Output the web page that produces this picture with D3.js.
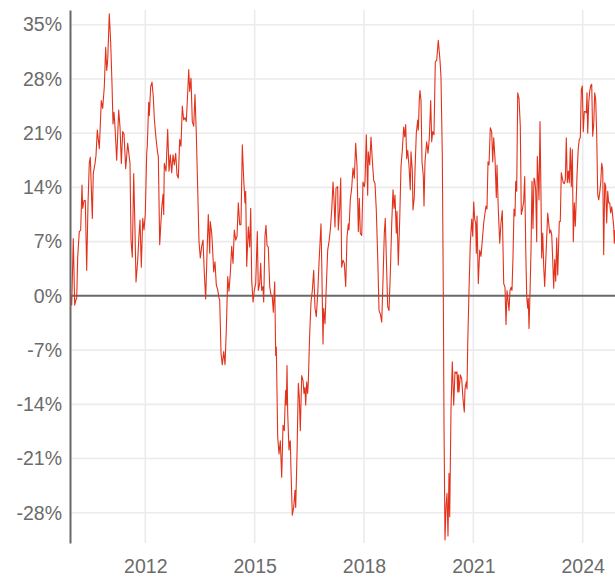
<!DOCTYPE html>
<html>
<head>
<meta charset="utf-8">
<script src="https://cdn.jsdelivr.net/npm/d3@7"></script>
<style>
  html, body { margin: 0; padding: 0; background: #ffffff; }
  svg { display: block; }
</style>
</head>
<body>
<svg id="chart" width="615" height="577"></svg>
<script>
// Observation times, as decimal years
const dates = [
  2009.953, 2009.981, 2010.024, 2010.063, 2010.090, 2010.118, 2010.145, 2010.189, 2010.227, 2010.263,
  2010.282, 2010.318, 2010.354, 2010.392, 2010.428, 2010.463, 2010.491, 2010.546, 2010.573, 2010.620,
  2010.647, 2010.683, 2010.738, 2010.793, 2010.831, 2010.875, 2010.913, 2010.941, 2010.968,
  2011.012, 2011.051, 2011.086, 2011.114, 2011.141, 2011.169, 2011.215, 2011.270, 2011.306, 2011.342,
  2011.380, 2011.416, 2011.462, 2011.517, 2011.561, 2011.580, 2011.608, 2011.643, 2011.682, 2011.717,
  2011.745, 2011.792, 2011.819, 2011.855, 2011.890, 2011.929, 2011.964,
  2012.000, 2012.038, 2012.055, 2012.093, 2012.110, 2012.148, 2012.184, 2012.219, 2012.247, 2012.294,
  2012.340, 2012.357, 2012.395, 2012.450, 2012.486, 2012.505, 2012.521, 2012.568, 2012.614, 2012.650,
  2012.686, 2012.724, 2012.760, 2012.796, 2012.834, 2012.870, 2012.905, 2012.944, 2012.979,
  2013.015, 2013.053, 2013.089, 2013.125, 2013.163, 2013.191, 2013.218, 2013.254, 2013.289, 2013.328,
  2013.363, 2013.399, 2013.438, 2013.473, 2013.509, 2013.547, 2013.583, 2013.619, 2013.657, 2013.693,
  2013.728, 2013.767, 2013.783, 2013.822, 2013.838, 2013.877, 2013.912, 2013.948, 2013.986,
  2014.022, 2014.041, 2014.077, 2014.112, 2014.151, 2014.187, 2014.222, 2014.261, 2014.296, 2014.332,
  2014.370, 2014.406, 2014.442, 2014.480, 2014.516, 2014.551, 2014.590, 2014.625, 2014.661, 2014.700,
  2014.735, 2014.754, 2014.782, 2014.826, 2014.864, 2014.892, 2014.919, 2014.955, 2014.990,
  2015.029, 2015.073, 2015.100, 2015.139, 2015.166, 2015.193, 2015.229, 2015.248, 2015.284, 2015.311,
  2015.339, 2015.374, 2015.413, 2015.449, 2015.484, 2015.512, 2015.550, 2015.577, 2015.594, 2015.632,
  2015.668, 2015.704, 2015.742, 2015.778, 2015.813, 2015.833, 2015.852, 2015.868, 2015.888, 2015.907,
  2015.942, 2015.962, 2015.978, 2015.997,
  2016.033, 2016.071, 2016.107, 2016.126, 2016.162, 2016.198, 2016.225, 2016.252, 2016.291, 2016.326,
  2016.354, 2016.381, 2016.400, 2016.428, 2016.455, 2016.472, 2016.510, 2016.546, 2016.582, 2016.620,
  2016.656, 2016.691, 2016.730, 2016.765, 2016.820, 2016.839, 2016.875, 2016.894, 2016.930, 2016.957,
  2017.004, 2017.040, 2017.075, 2017.114, 2017.150, 2017.177, 2017.204, 2017.232, 2017.278, 2017.295,
  2017.333, 2017.361, 2017.388, 2017.424, 2017.459, 2017.498, 2017.534, 2017.569, 2017.588, 2017.624,
  2017.662, 2017.698, 2017.734, 2017.772, 2017.808, 2017.844, 2017.871, 2017.898, 2017.937, 2017.972,
  2018.008, 2018.027, 2018.063, 2018.101, 2018.118, 2018.156, 2018.192, 2018.228, 2018.266, 2018.302,
  2018.337, 2018.376, 2018.412, 2018.447, 2018.486, 2018.521, 2018.557, 2018.584, 2018.612, 2018.650,
  2018.686, 2018.722, 2018.760, 2018.796, 2018.823, 2018.850, 2018.886, 2018.905, 2018.941, 2018.979,
  2019.015, 2019.051, 2019.089, 2019.117, 2019.144, 2019.171, 2019.199, 2019.235, 2019.270, 2019.289,
  2019.325, 2019.344, 2019.380, 2019.399, 2019.435, 2019.473, 2019.490, 2019.517, 2019.536, 2019.564,
  2019.591, 2019.627, 2019.646, 2019.673, 2019.720, 2019.756, 2019.791, 2019.830, 2019.857, 2019.885,
  2019.920, 2019.956, 2019.994,
  2020.038, 2020.085, 2020.112, 2020.148, 2020.176, 2020.195, 2020.222, 2020.250, 2020.277, 2020.304,
  2020.332, 2020.351, 2020.387, 2020.422, 2020.461, 2020.496, 2020.532, 2020.551, 2020.571, 2020.587,
  2020.606, 2020.642, 2020.680, 2020.716, 2020.752, 2020.771, 2020.806, 2020.826, 2020.845, 2020.881,
  2020.916, 2020.955, 2020.982,
  2021.010, 2021.037, 2021.064, 2021.081, 2021.100, 2021.136, 2021.174, 2021.210, 2021.246, 2021.284,
  2021.320, 2021.347, 2021.374, 2021.402, 2021.429, 2021.465, 2021.503, 2021.531, 2021.558, 2021.594,
  2021.630, 2021.649, 2021.684, 2021.723, 2021.758, 2021.794, 2021.833, 2021.868, 2021.896, 2021.923,
  2021.942, 2021.978,
  2022.005, 2022.033, 2022.060, 2022.088, 2022.115, 2022.143, 2022.162, 2022.189, 2022.217, 2022.252,
  2022.288, 2022.315, 2022.343, 2022.381, 2022.409, 2022.436, 2022.464, 2022.491, 2022.507, 2022.527,
  2022.554, 2022.582, 2022.609, 2022.636, 2022.664, 2022.683, 2022.710, 2022.738, 2022.754, 2022.782,
  2022.801, 2022.829, 2022.856, 2022.875, 2022.903, 2022.930, 2022.957, 2022.985,
  2023.012, 2023.040, 2023.067, 2023.095, 2023.122, 2023.150, 2023.177, 2023.204, 2023.232, 2023.259,
  2023.287, 2023.314, 2023.342, 2023.358, 2023.385, 2023.413, 2023.440, 2023.468, 2023.495, 2023.523,
  2023.550, 2023.577, 2023.605, 2023.632, 2023.660, 2023.687, 2023.715, 2023.742, 2023.770, 2023.797,
  2023.816, 2023.844, 2023.879, 2023.907, 2023.934, 2023.962, 2023.989,
  2024.016, 2024.044, 2024.071, 2024.099, 2024.118, 2024.137, 2024.165, 2024.192, 2024.219, 2024.247,
  2024.274, 2024.302, 2024.329, 2024.357, 2024.384, 2024.412, 2024.439, 2024.466, 2024.494, 2024.521,
  2024.549, 2024.576, 2024.604, 2024.631, 2024.658, 2024.686, 2024.713, 2024.741, 2024.768, 2024.796,
  2024.823, 2024.850, 2024.867, 2024.886
];

// Rolling return, in percent
const returns = [
  -0.1, -1.2, 7.4, -1.2, -0.6, -0.3, 5.0, 8.3, 8.5, 14.3,
  11.3, 12.3, 12.3, 3.3, 11.9, 17.1, 17.9, 10.0, 15.8, 17.1,
  18.1, 21.4, 19.0, 25.2, 24.2, 27.0, 32.1, 29.1, 30.4,
  36.4, 32.6, 27.4, 22.2, 23.7, 21.8, 17.5, 24.0, 21.8, 17.1,
  21.2, 20.9, 16.4, 19.7, 17.9, 17.1, 7.2, 5.0, 15.8, 8.5,
  1.8, 4.6, 7.2, 9.8, 3.7, 10.0, 8.5,
  10.6, 18.4, 19.4, 25.0, 23.3, 27.0, 27.6, 25.7, 22.9, 20.3,
  18.4, 18.0, 6.6, 11.3, 13.1, 10.5, 17.1, 16.1, 21.5, 16.1,
  18.2, 15.9, 18.2, 16.9, 18.4, 15.6, 15.2, 20.2, 19.3,
  24.5, 22.7, 23.0, 22.5, 26.2, 29.2, 26.4, 28.1, 22.5, 21.9,
  26.0, 21.0, 13.7, 7.0, 4.9, 6.4, 7.2, 2.9, -0.4, 5.5,
  10.5, 5.5, 9.6, 8.1, 6.8, 3.1, 4.4, 1.4, 0.8,
  -0.3, -0.5, -7.4, -8.9, -7.2, -8.9, -4.4, 2.5, 0.6, 2.9,
  6.4, 4.2, 8.5, 7.2, 7.7, 12.0, 9.2, 9.2, 19.5, 15.0,
  12.0, 13.5, 3.8, 8.9, 6.3, 11.3, 2.0, -0.8, 0.7,
  1.6, 8.3, 0.7, 1.6, 4.2, 0.7, 1.2, -0.8, 7.8, 9.1,
  6.5, 6.3, 1.2, 0.1, -0.1, -2.1, 1.8, -7.7, -6.6, -18.2,
  -20.4, -18.7, -23.4, -16.7, -17.4, -14.3, -12.2, -14.1, -9.0, -15.2,
  -19.9, -18.9, -18.7, -22.5,
  -28.3, -27.3, -25.1, -27.3, -20.4, -11.3, -13.1, -17.4, -10.3, -10.9,
  -12.6, -11.8, -14.1, -11.1, -12.6, -11.1, -4.9, -0.8, 0.7, 3.3,
  -1.6, -2.7, 0.3, 4.2, 9.3, 4.6, -6.2, -1.6, -3.6, 0.1,
  5.9, 7.0, 8.5, 11.1, 14.7, 12.4, 8.9, 13.9, 14.1, 8.5,
  11.3, 15.2, 3.7, 4.6, 4.2, 1.2, 7.6, 9.3, 8.5, 12.4,
  13.9, 16.5, 15.2, 19.7, 16.7, 8.3, 12.6, 8.1, 7.8, 14.7,
  14.1, 14.7, 20.8, 13.0, 18.6, 16.9, 20.5, 17.5, 14.9, 14.5,
  11.1, 5.0, -1.9, -2.3, -3.4, 2.0, 8.1, 10.0, 5.0, -1.4,
  -1.9, 2.9, 9.3, 13.7, 11.3, 13.0, 8.1, 10.9, 4.0, 9.8,
  16.7, 18.8, 21.8, 20.5, 22.1, 17.7, 18.8, 16.7, 13.7, 18.6,
  16.2, 11.1, 12.8, 16.2, 21.0, 22.7, 21.4, 25.3, 26.5, 25.2,
  17.3, 15.5, 11.6, 17.3, 19.9, 18.4, 20.3, 25.2, 19.9, 21.2,
  20.8, 30.2, 30.4,
  33.0, 30.4, 28.2, 18.2, 0.0, -16.8, -31.5, -27.2, -25.5, -31.0,
  -22.9, -28.5, -14.6, -8.5, -14.1, -9.8, -10.0, -9.8, -12.4, -10.2,
  -12.4, -10.2, -10.7, -13.3, -15.0, -12.0, -11.1, -12.0, -6.3, 0.7,
  6.8, 9.9, 7.7,
  12.1, 9.9, 9.4, 5.5, 10.3, 1.6, 5.9, 5.1, 7.2, 9.4,
  10.7, 11.6, 11.2, 17.3, 16.9, 21.7, 21.2, 17.3, 20.4, 17.7,
  12.7, 16.9, 11.2, 6.8, 9.4, 11.0, 1.6, 1.1, -3.7, 0.7,
  -0.2, -1.9,
  0.7, 1.1, 0.7, 5.1, 11.2, 10.3, 14.8, 13.5, 26.2, 25.5,
  21.9, 10.5, 11.1, 12.2, 15.4, 6.4, -0.1, -1.6, -0.3, -4.2,
  0.3, 5.9, 14.8, 8.7, 15.2, 15.0, 13.7, 7.0, 18.0, 15.0,
  12.4, 22.5, 12.8, 4.9, 8.1, 3.8, 1.2, 4.4,
  7.5, 10.7, 9.4, 8.1, 8.5, 7.9, 4.7, 1.0, 4.7, 1.9,
  7.5, 2.7, 7.0, 9.6, 9.6, 15.9, 15.2, 14.6, 14.5, 15.0,
  20.4, 14.6, 16.1, 14.6, 19.1, 14.1, 18.9, 7.0, 12.0, 9.0,
  11.5, 15.6, 19.1, 20.2, 20.4, 26.6, 27.1,
  21.2, 23.8, 23.8, 23.6, 26.2, 21.0, 24.9, 26.4, 27.1, 27.3,
  20.6, 22.1, 26.2, 25.3, 20.8, 13.1, 12.4, 13.3, 14.6, 17.1,
  16.3, 5.3, 14.6, 14.1, 9.4, 13.5, 12.0, 12.0, 10.7, 11.5,
  10.3, 9.0, 6.8, 8.5
];

const yearTicks = [2012, 2015, 2018, 2021, 2024];
const pctTicks = [-28, -21, -14, -7, 0, 7, 14, 21, 28, 35];

const width = 615, height = 577;
const margin = { top: 10, right: 0, bottom: 34, left: 70 };
const innerRight = width - margin.right;
const innerBottom = height - margin.bottom;

const series = dates.map((d, i) => ({ t: d, v: returns[i] }));

const x = d3.scaleLinear()
  .domain([2009.934, 2024.886])
  .range([margin.left, innerRight]);

const y = d3.scaleLinear()
  .domain([-31.9, 36.9])
  .range([innerBottom, margin.top]);

const svg = d3.select("#chart");
const font = "'Liberation Sans', Arial, Helvetica, sans-serif";
const textColor = "#6b6b6b";
const gridColor = "#ebebeb";
const axisColor = "#686868";

// Grid
const grid = svg.append("g");
grid.selectAll("line.h")
  .data(pctTicks.filter(d => d !== 0))
  .join("line")
  .attr("x1", margin.left).attr("x2", innerRight)
  .attr("y1", d => y(d)).attr("y2", d => y(d))
  .attr("stroke", gridColor).attr("stroke-width", 1.6);
grid.selectAll("line.v")
  .data(yearTicks)
  .join("line")
  .attr("x1", d => x(d)).attr("x2", d => x(d))
  .attr("y1", margin.top).attr("y2", innerBottom)
  .attr("stroke", gridColor).attr("stroke-width", 1.6);

// Zero reference line
svg.append("line")
  .attr("x1", margin.left).attr("x2", innerRight)
  .attr("y1", y(0)).attr("y2", y(0))
  .attr("stroke", axisColor).attr("stroke-width", 2);

// Return series
const line = d3.line()
  .x(d => x(d.t))
  .y(d => y(d.v));

svg.append("path")
  .datum(series)
  .attr("fill", "none")
  .attr("stroke", "#e3321c")
  .attr("stroke-width", 1.1)
  .attr("stroke-linejoin", "round")
  .attr("d", line);

// Y axis
const yAxis = svg.append("g")
  .attr("transform", `translate(${margin.left},0)`)
  .call(d3.axisLeft(y).tickValues(pctTicks).tickFormat(d => d + "%").tickSize(0).tickSizeOuter(0).tickPadding(8));
yAxis.select(".domain").attr("stroke", axisColor).attr("stroke-width", 2);
yAxis.selectAll("text")
  .attr("fill", textColor)
  .style("font-family", font)
  .style("font-size", "19.5px");

// X axis
const xAxis = svg.append("g")
  .attr("transform", `translate(0,${innerBottom})`)
  .call(d3.axisBottom(x).tickValues(yearTicks).tickFormat(d3.format("d")).tickSize(0).tickSizeOuter(0).tickPadding(16));
xAxis.select(".domain").remove();
xAxis.selectAll("text")
  .attr("fill", textColor)
  .style("font-family", font)
  .style("font-size", "19.5px");
</script>
</body>
</html>
